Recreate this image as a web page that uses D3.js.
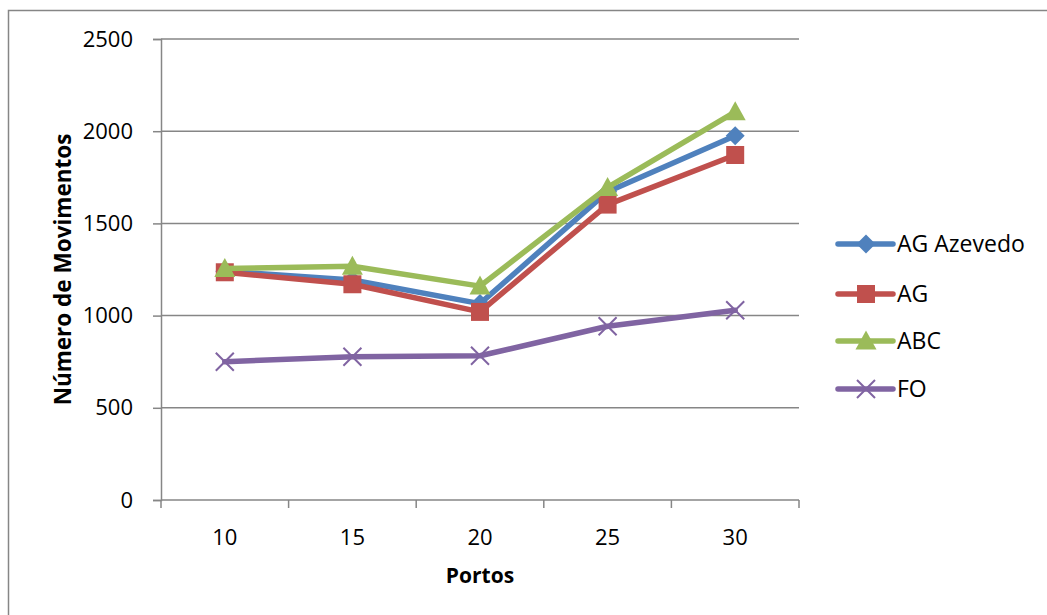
<!DOCTYPE html>
<html>
<head>
<meta charset="utf-8">
<script src="https://cdn.jsdelivr.net/npm/d3@7"></script>
<style>
  html, body { margin: 0; padding: 0; background: #fff; }
  svg { display: block; }
  text { font-family: "Open Sans", "DejaVu Sans", sans-serif; fill: #000; }
</style>
</head>
<body>
<svg id="chart" width="1047" height="615"></svg>
<script>
// Number of ports in each test instance
const categories = ["10", "15", "20", "25", "30"];

// Number of moves per algorithm
const seriesNames = ["AG Azevedo", "AG", "ABC", "FO"];
const agAzevedo = [1240, 1193, 1065, 1672, 1975];
const ag        = [1235, 1170, 1020, 1602, 1871];
const abc       = [1255, 1268, 1160, 1695, 2105];
const fo        = [750, 777, 782, 942, 1029];

const yTicks = [0, 500, 1000, 1500, 2000, 2500];

const colors = ["#4F81BD", "#C0504D", "#9BBB59", "#8064A2"];
const symbols = ["diamond", "square", "triangle", "cross"];
const seriesValues = [agAzevedo, ag, abc, fo];

const svg = d3.select("#chart");

// Outer chart frame
svg.append("rect")
  .attr("x", 8.5).attr("y", 10.5)
  .attr("width", 1200).attr("height", 700)
  .attr("fill", "none").attr("stroke", "#868686").attr("stroke-width", 1.5);

const plot = { left: 161, right: 799, top: 39, bottom: 500 };

const x = d3.scalePoint().domain(categories)
  .range([plot.left, plot.right]).padding(0.5);
const xBand = d3.scaleBand().domain(categories)
  .range([plot.left, plot.right]);
const y = d3.scaleLinear().domain([0, 2500])
  .range([plot.bottom, plot.top]);

const axisColor = "#868686";

// Horizontal gridlines
svg.append("g").selectAll("line")
  .data(yTicks.filter(v => v > 0))
  .join("line")
  .attr("x1", plot.left).attr("x2", plot.right)
  .attr("y1", d => y(d)).attr("y2", d => y(d))
  .attr("stroke", axisColor).attr("stroke-width", 1.5);

// Y axis
const yAxis = svg.append("g")
  .attr("transform", `translate(${plot.left},0)`)
  .call(d3.axisLeft(y).tickValues(yTicks).tickSize(8).tickPadding(20)
    .tickFormat(d3.format("d")));
yAxis.select(".domain").attr("stroke", axisColor).attr("stroke-width", 1.5);
yAxis.selectAll(".tick line").attr("stroke", axisColor).attr("stroke-width", 1.5);
yAxis.selectAll(".tick text")
  .attr("font-size", 22).attr("fill", "#000")
  .style("font-family", "'Open Sans', sans-serif");

// X axis: ticks sit between categories
const xAxisG = svg.append("g").attr("transform", `translate(0,${plot.bottom})`);
xAxisG.append("line")
  .attr("x1", plot.left).attr("x2", plot.right)
  .attr("stroke", axisColor).attr("stroke-width", 1.5);
const boundaries = categories.map(c => xBand(c)).concat([xBand.range()[1]]);
xAxisG.selectAll("line.tk").data(boundaries).join("line")
  .attr("class", "tk")
  .attr("x1", d => d).attr("x2", d => d)
  .attr("y1", 0).attr("y2", 8)
  .attr("stroke", axisColor).attr("stroke-width", 1.5);
xAxisG.selectAll("text").data(categories).join("text")
  .attr("x", d => x(d)).attr("y", 45)
  .attr("text-anchor", "middle")
  .attr("font-size", 22)
  .text(d => d);

// Axis titles
svg.append("text")
  .attr("x", (plot.left + plot.right) / 2).attr("y", 583)
  .attr("text-anchor", "middle")
  .attr("font-size", 21).attr("font-weight", "bold")
  .text("Portos");
svg.append("text")
  .attr("transform", `translate(71,${(plot.top + plot.bottom) / 2}) rotate(-90)`)
  .attr("text-anchor", "middle")
  .attr("font-size", 22.5).attr("font-weight", "bold")
  .text("Número de Movimentos");

// Marker drawing
function drawMarker(g, type, color, cx, cy) {
  if (type === "diamond") {
    g.append("path")
      .attr("d", `M${cx},${cy - 9.5}L${cx + 9.5},${cy}L${cx},${cy + 9.5}L${cx - 9.5},${cy}Z`)
      .attr("fill", color);
  } else if (type === "square") {
    g.append("rect")
      .attr("x", cx - 9).attr("y", cy - 9)
      .attr("width", 18).attr("height", 18)
      .attr("fill", color);
  } else if (type === "triangle") {
    g.append("path")
      .attr("d", `M${cx},${cy - 10.5}L${cx + 10.5},${cy + 8.5}L${cx - 10.5},${cy + 8.5}Z`)
      .attr("fill", color);
  } else if (type === "cross") {
    g.append("path")
      .attr("d", `M${cx - 9},${cy - 9}L${cx + 9},${cy + 9}M${cx - 9},${cy + 9}L${cx + 9},${cy - 9}`)
      .attr("stroke", color).attr("stroke-width", 2).attr("fill", "none");
  }
}

const line = d3.line()
  .x((d, i) => x(categories[i]))
  .y(d => y(d));

// Paint order: FO first, then AG Azevedo, AG and ABC on top
const drawOrder = [3, 0, 1, 2];
drawOrder.forEach(si => {
  const g = svg.append("g");
  g.append("path")
    .datum(seriesValues[si])
    .attr("d", line)
    .attr("fill", "none")
    .attr("stroke", colors[si])
    .attr("stroke-width", 5.5)
    .attr("stroke-linejoin", "round")
    .attr("stroke-linecap", "round");
  seriesValues[si].forEach((v, i) => {
    drawMarker(g, symbols[si], colors[si], x(categories[i]), y(v));
  });
});

// Legend
const legend = svg.append("g");
const legendRows = [244, 294, 341, 389];
seriesNames.forEach((name, i) => {
  const ly = legendRows[i];
  legend.append("line")
    .attr("x1", 838).attr("x2", 893)
    .attr("y1", ly).attr("y2", ly)
    .attr("stroke", colors[i]).attr("stroke-width", 5.5)
    .attr("stroke-linecap", "round");
  drawMarker(legend, symbols[i], colors[i], 866, ly);
  legend.append("text")
    .attr("x", 897).attr("y", ly)
    .attr("dy", "0.36em")
    .attr("font-size", 23)
    .text(name);
});
</script>
</body>
</html>
